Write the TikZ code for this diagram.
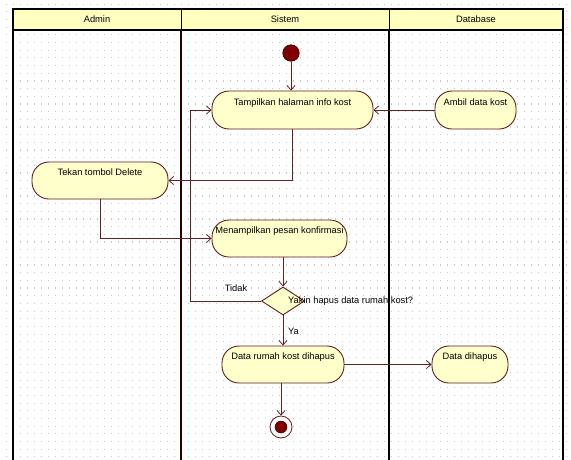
\documentclass[tikz,border=0pt]{standalone}
\usepackage{fontspec}
\setmainfont{Liberation Sans}
\usetikzlibrary{arrows.meta,shapes.geometric,calc}

\definecolor{dotc}{RGB}{200,200,200}
\definecolor{headfill}{RGB}{255,255,192}
\definecolor{actfill}{RGB}{255,255,204}
\definecolor{actdraw}{RGB}{95,30,30}
\definecolor{flowc}{RGB}{95,35,35}
\definecolor{startfill}{RGB}{128,0,0}
\definecolor{startdraw}{RGB}{60,0,0}
\definecolor{lanedark}{RGB}{45,0,0}

\tikzset{
  txt/.style={font=\fontsize{9.3}{11}\selectfont, inner sep=0pt},
  act/.style={txt, draw=actdraw, fill=actfill, line width=0.9pt,
    rounded corners=17pt, text height=6pt, text depth=16pt, inner sep=3pt},
  decision/.style={diamond, draw=actdraw, fill=actfill, line width=0.9pt,
    minimum width=43pt, minimum height=28pt, inner sep=0pt},
  startnode/.style={circle, draw=startdraw, fill=startfill, line width=0.6pt,
    minimum size=16.5pt, inner sep=0pt},
  endnode/.style={circle, draw=actdraw, fill=white, line width=0.8pt,
    minimum size=22pt, inner sep=0pt},
  flow/.style={draw=flowc, line width=0.8pt,
    -{Straight Barb[length=4.5pt,width=8pt]}},
  plainflow/.style={draw=flowc, line width=0.8pt},
}

\begin{document}
\begin{tikzpicture}[x=1pt, y=-1pt]
\useasboundingbox (0,0) rectangle (571,459);

% dotted drawing grid
\foreach \i in {0,...,80} {
  \foreach \j in {0,...,59} {
    \fill[dotc] (6.2+7*\i, 3.7+7.67*\j) rectangle ++(1.1,1.1);
  }
}

% swimlane header
\fill[headfill] (13,9) rectangle (563,30);
\draw[black, line width=1.2pt] (13,465) -- (13,9) -- (563,9) -- (563,465);
\draw[black, line width=1.2pt] (13,30) -- (563,30);
\draw[black, line width=1pt] (181,9) -- (181,30);
\draw[black, line width=1pt] (389,9) -- (389,30);
\node[txt] (hadmin) at (97,19.5) {Admin};
\node[txt] (hsistem) at (285,19.5) {Sistem};
\node[txt] (hdb) at (476,19.5) {Database};

% lane separators
\draw[lanedark, line width=2.6pt] (181,30) -- (181,465);
\draw[black, line width=1.6pt] (389,30) -- (389,465);

% activity nodes
\node[startnode] (start) at (291,53) {};
\node[act, minimum width=161pt, minimum height=38pt] (tamp) at (292.5,110) {Tampilkan halaman info kost};
\node[act, minimum width=81pt, minimum height=38pt] (ambil) at (475.5,110) {Ambil data kost};
\node[act, minimum width=136pt, minimum height=37pt] (tekan) at (100,180.5) {Tekan tombol Delete};
\node[act, minimum width=135pt, minimum height=37pt] (konf) at (279.5,238.5) {Menampilkan pesan konfirmasi};
\node[decision] (dec) at (283,301) {};
\node[act, minimum width=122pt, minimum height=37pt] (hapus) at (283,364.5) {Data rumah kost dihapus};
\node[act, minimum width=76pt, minimum height=37pt] (dbhapus) at (470,364.5) {Data dihapus};
\node[endnode] (stop) at (281,427) {};
\fill[startfill, draw=startdraw, line width=0.5pt] (stop) circle (6pt);

\coordinate (loopc) at (190,110);

% control flow
\draw[flow] (start) -- (start.south |- tamp.north);
\draw[flow] (ambil.west) -- (tamp.east);
\draw[flow] (tamp.south) |- (tekan.east);
\draw[flow] (tekan.south) |- (konf.west);
\draw[flow] (dec.north |- konf.south) -- (dec.north);
\draw[plainflow] (dec.west) -| (loopc);
\draw[flow] (loopc) -- (tamp.west);
\draw[flow] (dec.south) -- (dec.south |- hapus.north);
\draw[flow] (hapus.east) -- (dbhapus.west);
\draw[flow] (stop.north |- hapus.south) -- (stop.north);

% guard and decision labels
\node[txt] (tidak) at (236,288) {Tidak};
\node[txt, anchor=west] (ya) at (288,331) {Ya};
\node[txt, anchor=west] (qlabel) at (288,301) {Yakin hapus data rumah kost?};
\end{tikzpicture}
\end{document}
